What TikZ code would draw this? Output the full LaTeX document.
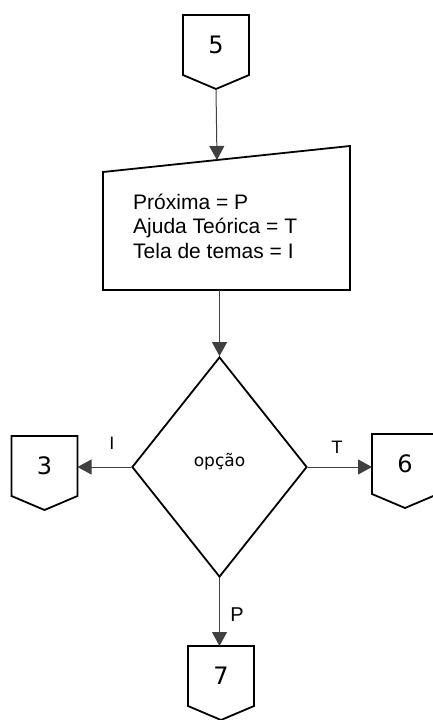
\documentclass[tikz,border=0pt]{standalone}
\usepackage{fontspec}
\newfontfamily\arialfont{Liberation Sans}
\newfontfamily\dvfont{DejaVu Sans}
\usetikzlibrary{arrows.meta,shapes.geometric}

\tikzset{
  outline/.style={draw=black, line width=1.8pt, line join=miter},
  flow/.style={draw=black!75, line width=1pt, -{Triangle[width=15pt,length=14pt]}},
  numtext/.style={font=\dvfont\fontsize{24}{28}\selectfont, inner sep=0pt},
  lbltext/.style={font=\dvfont\fontsize{17}{20}\selectfont, inner sep=0pt},
  % off-page connector, origin at the middle of its top edge
  pics/conn/.style={code={
    \draw[outline] (-33,0) -- (33,0) -- (33,60) -- (0,74) -- (-33,60) -- cycle;
    \coordinate (-top) at (0,0);
    \coordinate (-tip) at (0,74);
    \coordinate (-left) at (-33,30);
    \coordinate (-right) at (33,30);
    \node[numtext] (-num) at (0,30) {#1};
  }}
}

\begin{document}
\begin{tikzpicture}[x=1pt,y=-1pt]
\useasboundingbox (0,0) rectangle (433,720);

% connectors
\pic (c5) at (216,15) {conn=5};
\pic (c3) at (44.5,436) {conn=3};
\pic (c6) at (405,434) {conn=6};
\pic (c7) at (221,646) {conn=7};

% manual input box
\coordinate (mi-tl) at (103,172);
\coordinate (mi-tr) at (350,146);
\coordinate (mi-br) at (350,290);
\coordinate (mi-bl) at (103,290);
\draw[outline] (mi-tl) -- (mi-tr) -- (mi-br) -- (mi-bl) -- cycle;
\coordinate (mi-in) at (217,160);
\coordinate (mi-out) at (219.5,290);
% anchor on the baseline of the last line
\node[anchor=base west, align=left, inner sep=0pt,
      font=\arialfont\fontsize{21}{24.5}\selectfont] (mi-text) at (133,258)
  {Próxima = P\\Ajuda Teórica = T\\Tela de temas = I};

% decision
\node[diamond, outline, minimum width=175pt, minimum height=220pt, inner sep=0pt]
  (d) at (219.5,467) {};
\node[font=\dvfont\fontsize{17}{20}\selectfont, inner sep=0pt] (d-text) at (219.5,462) {opção};

% flow lines
\draw[flow] (c5-tip) -- (mi-in);
\draw[flow] (mi-out) -- (d.north);
\draw[flow] (d.west) -- (d.west -| c3-right);
\draw[flow] (d.east) -- (d.east -| c6-left);
\draw[flow] (d.south) -- (d.south |- c7-top);

% branch labels
\node[lbltext] (lI) at (112,443) {I};
\node[lbltext] (lT) at (337,447) {T};
\node[font=\arialfont\fontsize{20}{24}\selectfont, inner sep=0pt] (lP) at (237,615) {P};
\end{tikzpicture}
\end{document}
